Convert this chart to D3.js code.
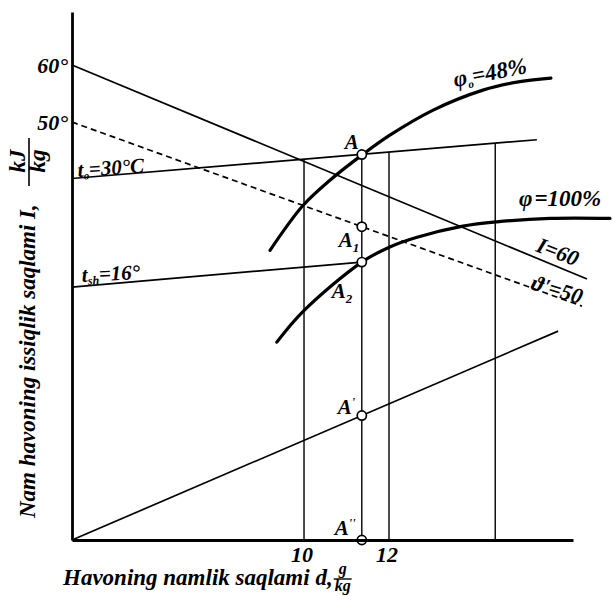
<!DOCTYPE html>
<html>
<head>
<meta charset="utf-8">
<script src="https://cdn.jsdelivr.net/npm/d3@7"></script>
<style>
  body { margin: 0; background: #fff; }
  text { font-family: "Liberation Serif", "Times New Roman", serif; font-weight: bold; font-style: italic; fill: #000; }
</style>
</head>
<body>
<svg id="chart" width="613" height="596"></svg>
<script>
// Moisture content d (g/kg) and enthalpy I (kJ/kg) extents of the diagram
const dDomain = [4.54, 16.33];
const iDomain = [-23.3, 69.3];
const xTicks = [10, 12];
const yTicks = [50, 60];

// Straight construction lines: [d, I] end points
const enthalpyLine   = [[4.54, 60], [16.66, 22.46]];   // I = 60
const wetBulbLine    = [[4.54, 50], [16.54, 17.72]];   // ϑ' = 50
const outdoorTemp    = [[4.54, 40.1], [15.48, 46.9]];  // t0 = 30 °C
const roomTemp       = [[4.54, 21.05], [11.36, 25.44]];// tsh = 16 °
const originRay      = [[4.54, -23.3], [15.98, 13.33]];

// Relative humidity curves
const phi48 = [[9.20, 27.5], [9.98, 35.4], [10.61, 39.8], [11.36, 44.2], [12.02, 47.7],
               [13.04, 52.1], [14.21, 55.6], [15.01, 57.0], [15.81, 57.7]];
const phi100 = [[9.36, 11.4], [9.98, 16.8], [11.36, 25.44], [12.02, 28.1], [12.66, 29.8],
                [13.74, 31.75], [14.54, 32.5], [15.79, 33.1], [17.2, 33.1]];

// Vertical d = const lines: [d, top I]
const verticals = [[10, 43.4], [11.36, 44.3], [12, 44.7], [14.5, 46.2]];

// State points on the d = 11.36 line
const statePoints = [
  { name: "A",   d: 11.36, i: 44.3 },
  { name: "A1",  d: 11.36, i: 31.65 },
  { name: "A2",  d: 11.36, i: 25.44 },
  { name: "A'",  d: 11.36, i: -1.47 },
  { name: "A''", d: 11.36, i: -23.3 }
];

const svg = d3.select("#chart");
const x = d3.scaleLinear().domain(dDomain).range([72, 573]);
const y = d3.scaleLinear().domain(iDomain).range([540, 12]);

const line = d3.line().x(p => x(p[0])).y(p => y(p[1]));
const curve = d3.line().x(p => x(p[0])).y(p => y(p[1])).curve(d3.curveCatmullRom.alpha(0.5));

const g = svg.append("g");

// vertical lines
g.selectAll(".vert").data(verticals).join("line")
  .attr("x1", v => x(v[0])).attr("x2", v => x(v[0]))
  .attr("y1", y(iDomain[0])).attr("y2", v => y(v[1]))
  .attr("stroke", "#000").attr("stroke-width", 1.4);

// thin straight lines
[enthalpyLine, outdoorTemp, roomTemp, originRay].forEach(l => {
  g.append("path").attr("d", line(l)).attr("fill", "none")
    .attr("stroke", "#000").attr("stroke-width", 1.7);
});
g.append("path").attr("d", line(wetBulbLine)).attr("fill", "none")
  .attr("stroke", "#000").attr("stroke-width", 1.7).attr("stroke-dasharray", "6,4");

// humidity curves
[phi48, phi100].forEach(c => {
  g.append("path").attr("d", curve(c)).attr("fill", "none")
    .attr("stroke", "#000").attr("stroke-width", 3.2).attr("stroke-linecap", "round");
});

// axes
const xAxis = d3.axisBottom(x).tickValues(xTicks).tickSize(0).tickSizeOuter(0).tickPadding(6)
  .tickFormat(d3.format("d"));
const yAxis = d3.axisLeft(y).tickValues(yTicks).tickSize(0).tickSizeOuter(0).tickPadding(4)
  .tickFormat(d => d + "°");

const gx = svg.append("g").attr("transform", `translate(0,${y(iDomain[0])})`).call(xAxis);
const gy = svg.append("g").attr("transform", `translate(${x(dDomain[0])},0)`).call(yAxis);
[gx, gy].forEach(a => {
  a.select(".domain").attr("stroke", "#000").attr("stroke-width", 2.8);
  a.selectAll("text").attr("font-family", null).style("font-size", "22px");
});
gx.selectAll(".tick text").attr("dx", "-0.12em");

// state point markers
g.selectAll(".pt").data(statePoints).join("circle")
  .attr("cx", p => x(p.d)).attr("cy", p => y(p.i)).attr("r", 4.6)
  .attr("fill", "#fff").attr("stroke", "#000").attr("stroke-width", 1.7);

// state point labels
function label(txt, sub, px, py, size) {
  const t = svg.append("text").attr("x", px).attr("y", py).style("font-size", size + "px").text(txt);
  if (sub) t.append("tspan").attr("dy", 5).style("font-size", (size * 0.62) + "px").text(sub);
  return t;
}
const ax = x(11.36);
label("A", null, ax - 17, y(44.3) - 6, 21);
label("A", "1", ax - 23, y(31.65) + 20, 21);
label("A", "2", ax - 30, y(25.44) + 36, 21);
svg.append("text").attr("x", ax - 24).attr("y", y(-1.47) - 2).style("font-size", "21px")
  .text("A").append("tspan").attr("dy", -8).style("font-size", "12px").text("'");
svg.append("text").attr("x", ax - 27).attr("y", y(-23.3) - 5).style("font-size", "21px")
  .text("A").append("tspan").attr("dy", -8).style("font-size", "12px").text("''");

// curve and line labels
const phiA = svg.append("text").attr("transform", "translate(455,87) rotate(-11)").style("font-size", "23px");
phiA.append("tspan").text("φ");
phiA.append("tspan").attr("dy", 4).style("font-size", "11px").text("o");
phiA.append("tspan").attr("dy", -4).text("=48%");

const phiB = svg.append("text").attr("transform", "translate(519,206)").style("font-size", "23px");
phiB.append("tspan").text("φ");
phiB.append("tspan").attr("dx", 2).text("=100%");

svg.append("text").attr("transform", "translate(535,251) rotate(21)").style("font-size", "22px").text("I=60");
svg.append("text").attr("transform", "translate(530,289) rotate(17)").style("font-size", "22px").text("ϑ'=50");

const t0 = svg.append("text").attr("transform", "translate(78,177) rotate(-4)").style("font-size", "21px");
t0.append("tspan").text("t");
t0.append("tspan").attr("dy", 3).style("font-size", "11px").text("o");
t0.append("tspan").attr("dy", -3).text("=30°C");

const tsh = svg.append("text").attr("transform", "translate(82,282) rotate(-3)").style("font-size", "21px");
tsh.append("tspan").text("t");
tsh.append("tspan").attr("dy", 3).style("font-size", "12px").text("sh");
tsh.append("tspan").attr("dy", -3).text("=16°");

// axis titles
const xt = svg.append("text").attr("x", 63).attr("y", 585).style("font-size", "23px")
  .text("Havoning namlik saqlami d,");
const xtEnd = 63 + xt.node().getComputedTextLength() + 10;
svg.append("text").attr("x", xtEnd).attr("y", 574).attr("text-anchor", "middle").style("font-size", "16px").text("g");
svg.append("line").attr("x1", xtEnd - 9).attr("x2", xtEnd + 9).attr("y1", 579).attr("y2", 579)
  .attr("stroke", "#000").attr("stroke-width", 1.4);
svg.append("text").attr("x", xtEnd).attr("y", 591).attr("text-anchor", "middle").style("font-size", "16px").text("kg");

svg.append("text").attr("transform", "translate(35,518) rotate(-90)").style("font-size", "23px")
  .text("Nam havoning issiqlik saqlami I,");

// kJ/kg unit
svg.append("text").attr("transform", "translate(25,161) rotate(-90)").attr("text-anchor", "middle")
  .style("font-size", "23px").text("kJ");
svg.append("line").attr("x1", 29).attr("x2", 29).attr("y1", 138).attr("y2", 186)
  .attr("stroke", "#000").attr("stroke-width", 1.6);
svg.append("text").attr("transform", "translate(45,161) rotate(-90)").attr("text-anchor", "middle")
  .style("font-size", "23px").text("kg");
</script>
</body>
</html>
